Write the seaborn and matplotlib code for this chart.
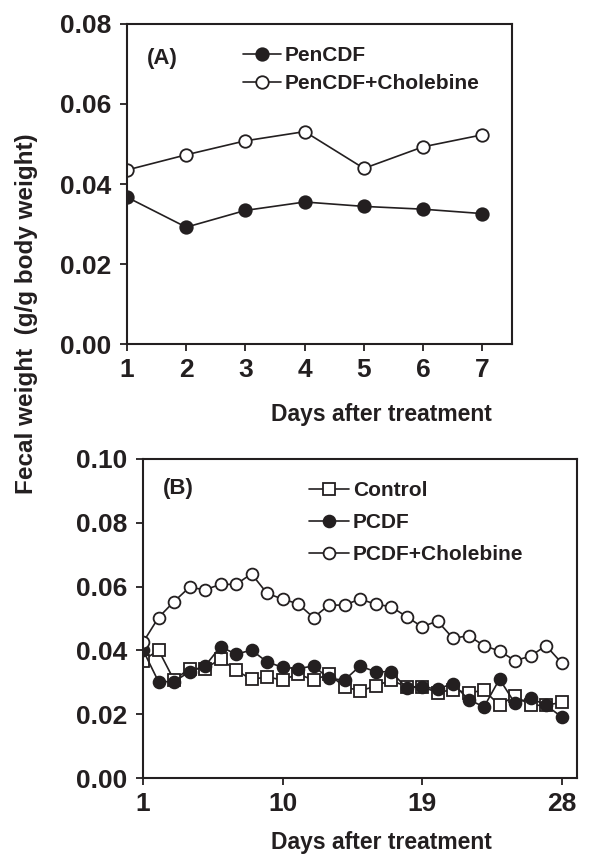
import matplotlib
matplotlib.use('Agg')
import matplotlib.pyplot as plt
import pandas as pd
import seaborn as sns

# Panel A data (days 1-7)
days_a = [1, 2, 3, 4, 5, 6, 7]
pencdf = [0.0367, 0.0292, 0.0334, 0.0355, 0.0344, 0.0337, 0.0326]
pencdf_chol = [0.0435, 0.0473, 0.0508, 0.0531, 0.0439, 0.0493, 0.0523]

# Panel B data (days 1-28)
days_b = list(range(1, 29))
control = [0.0368, 0.0401, 0.0307, 0.0343, 0.0343, 0.0373, 0.0338, 0.0309,
           0.0317, 0.0307, 0.0326, 0.0307, 0.0325, 0.0286, 0.0273, 0.0288,
           0.0307, 0.0286, 0.0286, 0.0268, 0.0277, 0.0267, 0.0275, 0.0228,
           0.0258, 0.0228, 0.0228, 0.0237]
pcdf = [0.0401, 0.0302, 0.0302, 0.0333, 0.0351, 0.0412, 0.0388, 0.0401,
        0.0364, 0.0347, 0.0343, 0.0351, 0.0312, 0.0307, 0.0351, 0.0333,
        0.0333, 0.0283, 0.0286, 0.0279, 0.0296, 0.0246, 0.0223, 0.0310,
        0.0234, 0.0251, 0.0228, 0.0192]
pcdf_chol = [0.0425, 0.0503, 0.0553, 0.0598, 0.0590, 0.0607, 0.0607, 0.0640,
             0.0579, 0.0561, 0.0546, 0.0503, 0.0542, 0.0542, 0.0561, 0.0545,
             0.0537, 0.0506, 0.0474, 0.0492, 0.0438, 0.0446, 0.0415, 0.0398,
             0.0368, 0.0382, 0.0415, 0.0361]

df_a = pd.DataFrame({'day': days_a, 'PenCDF': pencdf, 'PenCDF+Cholebine': pencdf_chol})
df_b = pd.DataFrame({'day': days_b, 'Control': control, 'PCDF': pcdf, 'PCDF+Cholebine': pcdf_chol})

sns.set_theme(style='ticks')
plt.rcParams['font.family'] = ['Liberation Sans', 'DejaVu Sans']
plt.rcParams['font.weight'] = 'bold'

ink = '#231f20'
W, H = 590, 856
fig = plt.figure(figsize=(W / 100, H / 100), dpi=100)

ax1 = fig.add_axes([127 / W, 1 - 344 / H, 385 / W, 320 / H])
ax2 = fig.add_axes([143 / W, 1 - 778 / H, 434 / W, 319 / H])

line_kw = dict(color=ink, linewidth=1.2, markeredgecolor=ink, markeredgewidth=1.3)

# Panel A
sns.lineplot(data=df_a, x='day', y='PenCDF', ax=ax1, marker='o', markersize=9,
             markerfacecolor=ink, label='PenCDF', **line_kw)
sns.lineplot(data=df_a, x='day', y='PenCDF+Cholebine', ax=ax1, marker='o', markersize=9,
             markerfacecolor='white', label='PenCDF+Cholebine', **line_kw)

# Panel B
sns.lineplot(data=df_b, x='day', y='Control', ax=ax2, marker='s', markersize=8,
             markerfacecolor='white', label='Control', **line_kw)
sns.lineplot(data=df_b, x='day', y='PCDF', ax=ax2, marker='o', markersize=8.5,
             markerfacecolor=ink, label='PCDF', **line_kw)
sns.lineplot(data=df_b, x='day', y='PCDF+Cholebine', ax=ax2, marker='o', markersize=8.5,
             markerfacecolor='white', label='PCDF+Cholebine', **line_kw)

ax1.set_xlim(1, 7.5)
ax1.set_ylim(0, 0.08)
ax1.set_xticks(days_a)
ax1.set_yticks([0.00, 0.02, 0.04, 0.06, 0.08])
ax1.set_yticklabels(['0.00', '0.02', '0.04', '0.06', '0.08'])

ax2.set_xlim(1, 29)
ax2.set_ylim(0, 0.10)
ax2.set_xticks([1, 10, 19, 28])
ax2.set_yticks([0.00, 0.02, 0.04, 0.06, 0.08, 0.10])
ax2.set_yticklabels(['0.00', '0.02', '0.04', '0.06', '0.08', '0.10'])

for ax in (ax1, ax2):
    for sp in ax.spines.values():
        sp.set_visible(True)
        sp.set_linewidth(1.5)
        sp.set_color(ink)
    ax.tick_params(axis='both', direction='out', length=5, width=1.3, color=ink,
                   labelsize=19, labelcolor=ink, pad=5)
    ax.tick_params(axis='y', pad=6)
    ax.set_ylabel('')
    ax.set_xlabel('Days after treatment', fontsize=16.5, fontweight='bold', color=ink)

# x labels centred at x ~ 381 px
ax1.xaxis.set_label_coords((381 - 127) / 385, -(414 - 344) / 320)
ax1.xaxis.label.set_va('center')
ax2.xaxis.set_label_coords((381 - 143) / 434, -(842 - 778) / 319)
ax2.xaxis.label.set_va('center')

ax1.text(0.052, 0.893, '(A)', transform=ax1.transAxes, fontsize=16,
         fontweight='bold', color=ink, va='center', ha='left')
ax2.text(0.046, 0.906, '(B)', transform=ax2.transAxes, fontsize=16,
         fontweight='bold', color=ink, va='center', ha='left')

leg1 = ax1.legend(loc='upper left', bbox_to_anchor=((243 - 127) / 385, (344 - 46) / 320),
                  frameon=False, fontsize=15, handlelength=1.8, handletextpad=0.2,
                  labelspacing=0.45, borderaxespad=0, borderpad=0)
leg2 = ax2.legend(loc='upper left', bbox_to_anchor=((309 - 143) / 434, (778 - 481) / 319),
                  frameon=False, fontsize=15, handlelength=1.9, handletextpad=0.2,
                  labelspacing=0.62, borderaxespad=0, borderpad=0)
for leg in (leg1, leg2):
    for t in leg.get_texts():
        t.set_color(ink)

fig.text(27 / W, 1 - 314 / H, 'Fecal weight  (g/g body weight)', rotation=90,
         fontsize=17.5, fontweight='bold', color=ink, ha='center', va='center')

fig.savefig('out.png', dpi=100)
